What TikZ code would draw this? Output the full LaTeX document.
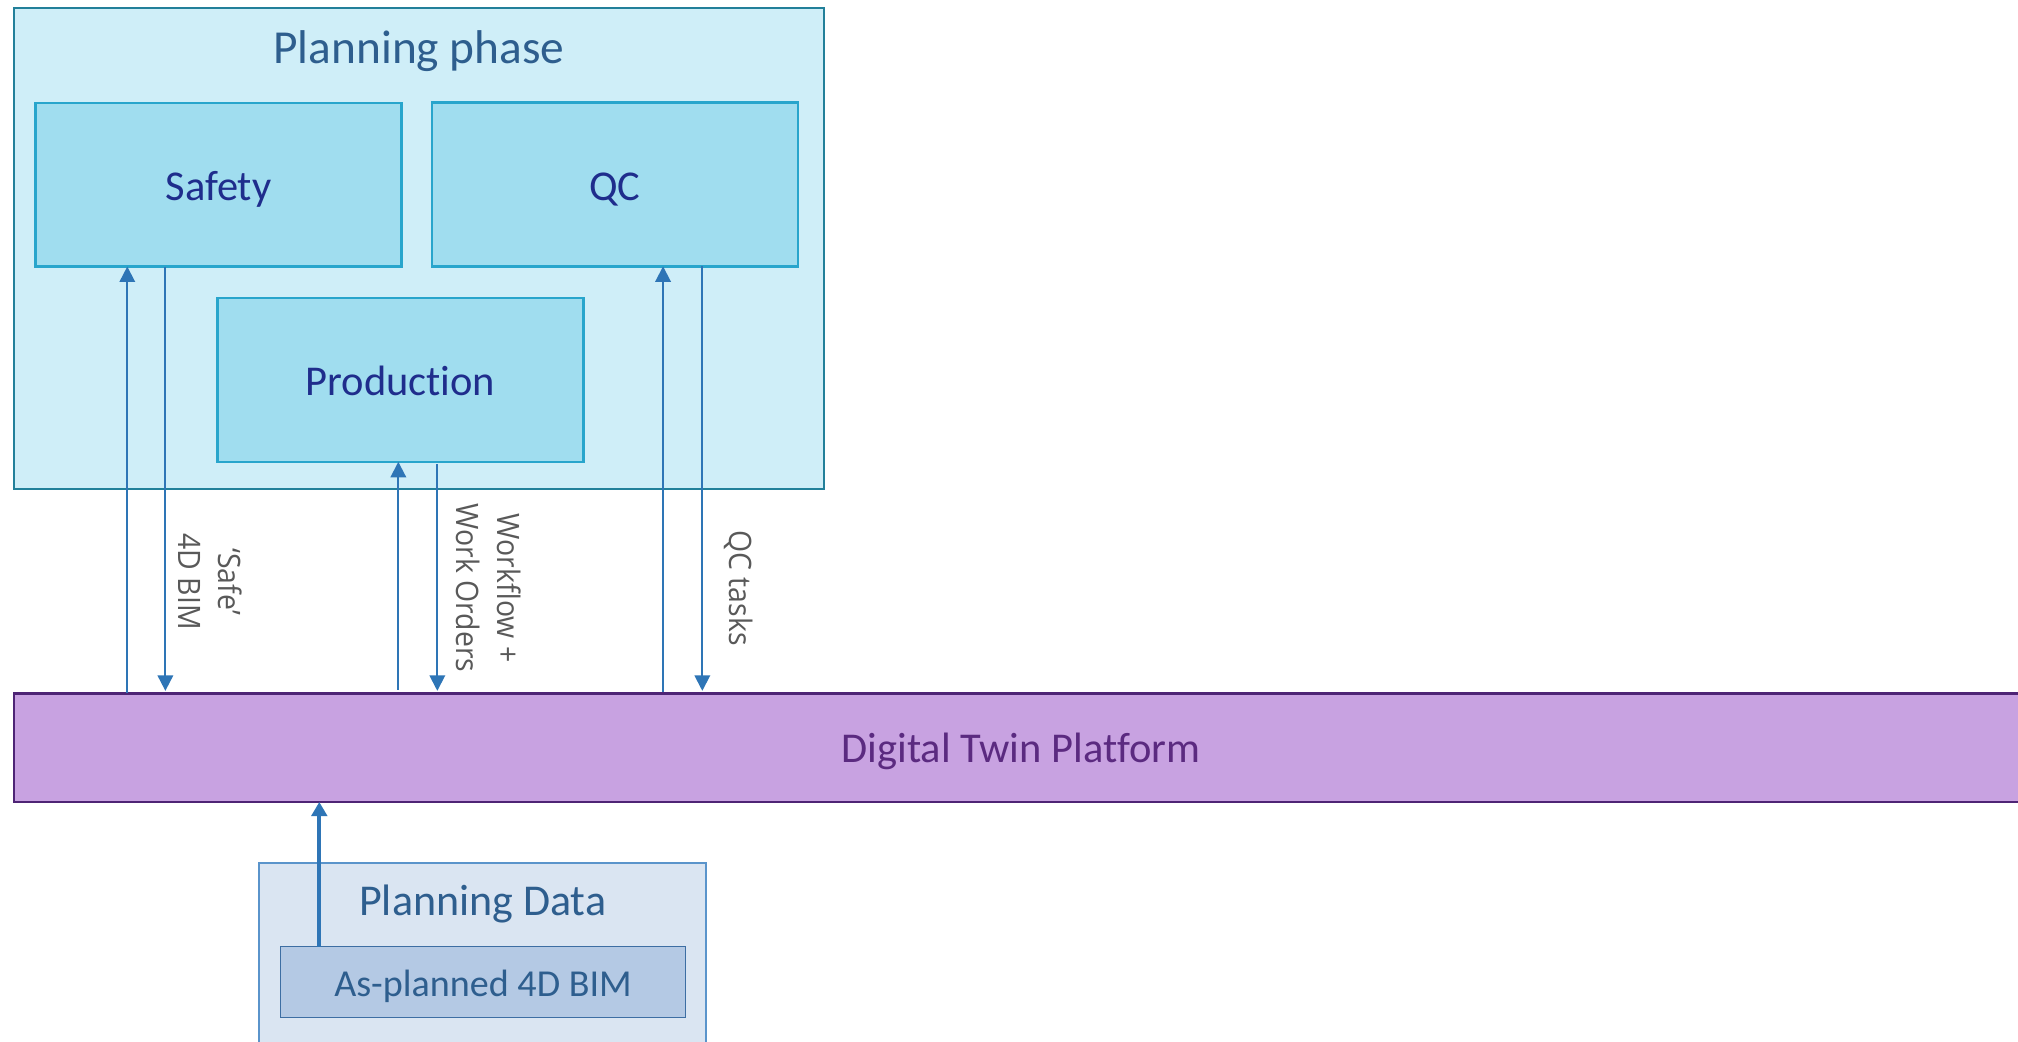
\documentclass[tikz,border=0pt]{standalone}
\usepackage{fontspec}
\setmainfont{Carlito}[Ligatures={NoCommon}]
\newfontfamily\lblfont[FakeStretch=0.92]{Open Sans}
\usetikzlibrary{arrows.meta,fit}

\definecolor{phasefill}{HTML}{CFEEF8}
\definecolor{phaseline}{HTML}{22809A}
\definecolor{subfill}{HTML}{A0DDEF}
\definecolor{subline}{HTML}{28A5CC}
\definecolor{subtext}{HTML}{1F2D8C}
\definecolor{titletext}{HTML}{2E5E8E}
\definecolor{arrowcol}{HTML}{2E75B6}
\definecolor{lblgrey}{HTML}{595959}
\definecolor{dtpfill}{HTML}{C8A2E1}
\definecolor{dtpline}{HTML}{4E2475}
\definecolor{dtptext}{HTML}{5B2A80}
\definecolor{pdfill}{HTML}{DAE5F2}
\definecolor{pdline}{HTML}{5A94CB}
\definecolor{apfill}{HTML}{B4C9E4}
\definecolor{apline}{HTML}{3D6EA3}

\begin{document}
\begin{tikzpicture}[x=0.5pt,y=-0.5pt,
  anybox/.style={inner sep=0pt, outer sep=0pt},
  phasebox/.style={anybox, draw=phaseline, fill=phasefill, line width=0.8pt},
  subbox/.style={anybox, draw=subline, fill=subfill, line width=1pt,
    minimum width=142.3pt, minimum height=63.6pt,
    text=subtext, font=\fontsize{16.5pt}{20pt}\selectfont,
    text height=12.2pt, text depth=0pt},
  dtpbox/.style={anybox, draw=dtpline, fill=dtpfill, line width=1pt,
    minimum width=782.55pt, minimum height=42.15pt,
    text=dtptext, font=\fontsize{16.5pt}{20pt}\selectfont,
    text height=11.4pt, text depth=0pt},
  pdbox/.style={anybox, draw=pdline, fill=pdfill, line width=0.8pt},
  apbox/.style={anybox, draw=apline, fill=apfill, line width=0.6pt,
    minimum width=157.5pt, minimum height=27.45pt,
    text=titletext, font=\fontsize{14.8pt}{18pt}\selectfont,
    text height=11.1pt, text depth=0pt},
  heading/.style={inner sep=0pt, anchor=base, text=titletext},
  arr/.style={draw=arrowcol, line width=0.75pt,
    -{Triangle[length=6pt,width=6pt]}},
  thickarr/.style={draw=arrowcol, line width=1.5pt,
    -{Triangle[length=5.5pt,width=6pt]}},
  flowlbl/.style={inner sep=0pt, rotate=-90, text=lblgrey, align=center,
    font=\lblfont\fontsize{12pt}{15.8pt}\selectfont}]

\useasboundingbox (0,0) rectangle (1568,809);
\clip (0,0) rectangle (1568,809);
\fill[white] (0,0) rectangle (1568,809);

% planning phase container and its three activities
\node[phasebox, fit={(10.9,6.5) (640.3,380.2)}] (phase) {};
\node[heading, font=\fontsize{18.4pt}{22pt}\selectfont] (phasetitle) at (325.6,49.7) {Planning phase};
\node[subbox] (safety) at (169.75,143.5) {Safety};
\node[subbox] (qc) at (477.85,143.35) {QC};
\node[subbox] (prod) at (311.1,295.25) {Production};

% platform bar
\node[dtpbox] (dtp) at (793.45,580.95) {Digital Twin Platform};

% planning data source
\node[pdbox, fit={(201.3,670.3) (548.6,830)}] (pdata) {};
\node[heading, font=\fontsize{17.1pt}{21pt}\selectfont] (pdatatitle) at (375.1,711) {Planning Data};
\node[apbox] (asplan) at (375.3,763.05) {As-planned 4D BIM};

% x positions of the vertical connectors
\coordinate (sx1) at (98.9,0);
\coordinate (sx2) at (128.5,0);
\coordinate (px1) at (309.5,0);
\coordinate (px2) at (339.8,0);
\coordinate (qx1) at (515.2,0);
\coordinate (qx2) at (545.7,0);
\coordinate (dx) at (248.1,0);

% exchanges with the platform
\draw[arr] (dtp.north -| sx1) -- (safety.south -| sx1);
\draw[arr, shorten >=1pt] (safety.south -| sx2) -- (dtp.north -| sx2);
\draw[arr, shorten <=1.5pt] (dtp.north -| px1) -- (prod.south -| px1);
\draw[arr, shorten <=1pt, shorten >=1pt] (prod.south -| px2) -- (dtp.north -| px2);
\draw[arr, shorten <=0.7pt] (dtp.north -| qx1) -- (qc.south -| qx1);
\draw[arr, shorten >=1pt] (qc.south -| qx2) -- (dtp.north -| qx2);
\draw[thickarr] (asplan.north -| dx) -- (dtp.south -| dx);

% connector labels
\node[flowlbl] (lblsafe) at (163.5,452) {‘Safe’\\4D BIM};
\node[flowlbl] (lblwork) at (379.5,457) {Workflow +\\Work Orders};
\node[flowlbl, anchor=base] (lblqc) at (566.5,457) {QC tasks};

\end{tikzpicture}
\end{document}
